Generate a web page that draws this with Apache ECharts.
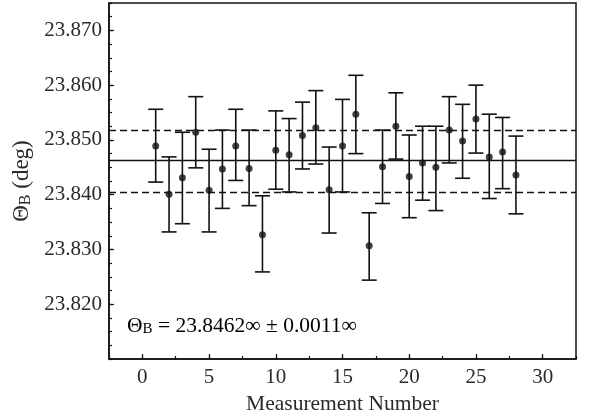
<!DOCTYPE html>
<html><head><meta charset="utf-8">
<script src="https://cdn.jsdelivr.net/npm/echarts@6/dist/echarts.min.js"></script>
<style>html,body{margin:0;padding:0;background:#fff}#c{width:592px;height:416px}</style>
</head><body><div id="c"></div>
<script>
// ---- data ----
const measurement = [1,2,3,4,5,6,7,8,9,10,11,12,13,14,15,16,17,18,19,20,21,22,23,24,25,26,27,28];
const thetaB = [23.8489,23.8401,23.8431,23.8514,23.8408,23.8447,23.8489,23.8448,23.8327,23.8481,23.8473,23.8508,23.8522,23.8409,
                23.8489,23.8547,23.8307,23.8451,23.8525,23.8433,23.8458,23.8450,23.8518,23.8498,23.8538,23.8469,23.8478,23.8436];
const upperBound = [23.8556,23.8469,23.8514,23.8579,23.8483,23.8518,23.8556,23.8518,23.8398,23.8553,23.8539,23.8569,23.8590,23.8487,
                    23.8574,23.8618,23.8367,23.8518,23.8586,23.8509,23.8525,23.8525,23.8579,23.8565,23.8600,23.8547,23.8541,23.8507];
const lowerBound = [23.8423,23.8332,23.8347,23.8449,23.8332,23.8375,23.8426,23.8380,23.8259,23.8410,23.8405,23.8447,23.8456,23.8330,
                    23.8405,23.8475,23.8244,23.8384,23.8465,23.8358,23.8390,23.8371,23.8458,23.8430,23.8476,23.8393,23.8411,23.8365];
const meanValue = 23.8462;
const bandUpper = 23.8518;
const bandLower = 23.8405;
const xAxisTitle = 'Measurement Number';
const yAxisTitle = '{t|Θ}{s|B}{t| (deg)}';
const annotation = '{t|Θ}{s|B}{t| = 23.8462∞ ± 0.0011∞}';

// ---- chart ----
const FONT = 'Liberation Serif';
const INK = '#111';
const TXT = '#2a2a2a';
const chart = echarts.init(document.getElementById('c'), null, {renderer: 'canvas'});
function subRich(size) {
  return {
    t: {fontFamily: FONT, fontSize: size, color: TXT, lineHeight: size + 2, verticalAlign: 'bottom'},
    s: {fontFamily: FONT, fontSize: Math.round(size * 0.7), color: TXT, lineHeight: Math.round(size * 0.5), verticalAlign: 'bottom'}
  };
}
chart.setOption({
  animation: false,
  backgroundColor: '#fff',
  grid: {left: 109, right: 16, top: 3, bottom: 57, show: true, borderColor: INK, borderWidth: 1.5,
         backgroundColor: 'transparent', containLabel: false, outerBoundsMode: 'none'},
  xAxis: [{
    type: 'value', min: -2.5, max: 32.5, minInterval: 5, maxInterval: 5,
    name: xAxisTitle, nameLocation: 'middle', nameGap: 27,
    nameTextStyle: {fontFamily: FONT, fontSize: 21.5, color: TXT},
    axisLine: {show: true, onZero: false, lineStyle: {color: INK, width: 1.5}},
    axisTick: {show: true, inside: true, length: 5, lineStyle: {color: INK, width: 1.2}},
    axisLabel: {fontFamily: FONT, fontSize: 21, color: TXT, margin: 8, showMinLabel: false, showMaxLabel: false},
    splitLine: {show: false}
  }, {
    type: 'value', min: -2.5, max: 32.5, interval: 2.5, position: 'bottom',
    axisLine: {show: false, onZero: false},
    axisTick: {show: true, inside: true, length: 3, lineStyle: {color: INK, width: 1.2}},
    axisLabel: {show: false}, splitLine: {show: false}
  }],
  yAxis: [{
    type: 'value', min: 23.81, max: 23.875, interval: 0.01,
    name: yAxisTitle, nameLocation: 'middle', nameGap: 74,
    nameTextStyle: {rich: subRich(23)},
    axisLine: {show: true, onZero: false, lineStyle: {color: INK, width: 1.5}},
    axisTick: {show: true, inside: true, length: 5, lineStyle: {color: INK, width: 1.2}},
    axisLabel: {fontFamily: FONT, fontSize: 21, color: TXT, margin: 7, showMinLabel: false, showMaxLabel: false,
                formatter: v => v.toFixed(3)},
    splitLine: {show: false}
  }, {
    type: 'value', min: 23.81, max: 23.875, interval: 0.0025, position: 'left',
    axisLine: {show: false, onZero: false},
    axisTick: {show: true, inside: true, length: 3, lineStyle: {color: INK, width: 1.2}},
    axisLabel: {show: false}, splitLine: {show: false}
  }],
  series: [{
    type: 'custom',
    data: measurement.map((m, i) => [m, lowerBound[i], upperBound[i]]),
    encode: {x: 0, y: [1, 2]},
    renderItem: (params, api) => {
      const lo = api.coord([api.value(0), api.value(1)]);
      const hi = api.coord([api.value(0), api.value(2)]);
      const hw = 7.5;
      const st = {stroke: INK, lineWidth: 1.6};
      return {type: 'group', children: [
        {type: 'line', shape: {x1: lo[0], y1: lo[1], x2: hi[0], y2: hi[1]}, style: st},
        {type: 'line', shape: {x1: lo[0] - hw, y1: lo[1], x2: lo[0] + hw, y2: lo[1]}, style: st},
        {type: 'line', shape: {x1: hi[0] - hw, y1: hi[1], x2: hi[0] + hw, y2: hi[1]}, style: st}
      ]};
    },
    z: 2
  }, {
    type: 'scatter',
    data: measurement.map((m, i) => [m, thetaB[i]]),
    symbol: 'circle', symbolSize: 7,
    itemStyle: {color: INK},
    z: 3,
    markLine: {
      silent: true, symbol: 'none', label: {show: false}, precision: 4,
      data: [
        {yAxis: meanValue, lineStyle: {type: 'solid', color: INK, width: 1.3}},
        {yAxis: bandUpper, lineStyle: {type: [7, 4], color: INK, width: 1.3}},
        {yAxis: bandLower, lineStyle: {type: [7, 4], color: INK, width: 1.3}}
      ]
    }
  }],
  graphic: [{
    type: 'text', left: 127, top: 315,
    style: {text: annotation, rich: subRich(21.5)}
  }]
});
</script></body></html>
